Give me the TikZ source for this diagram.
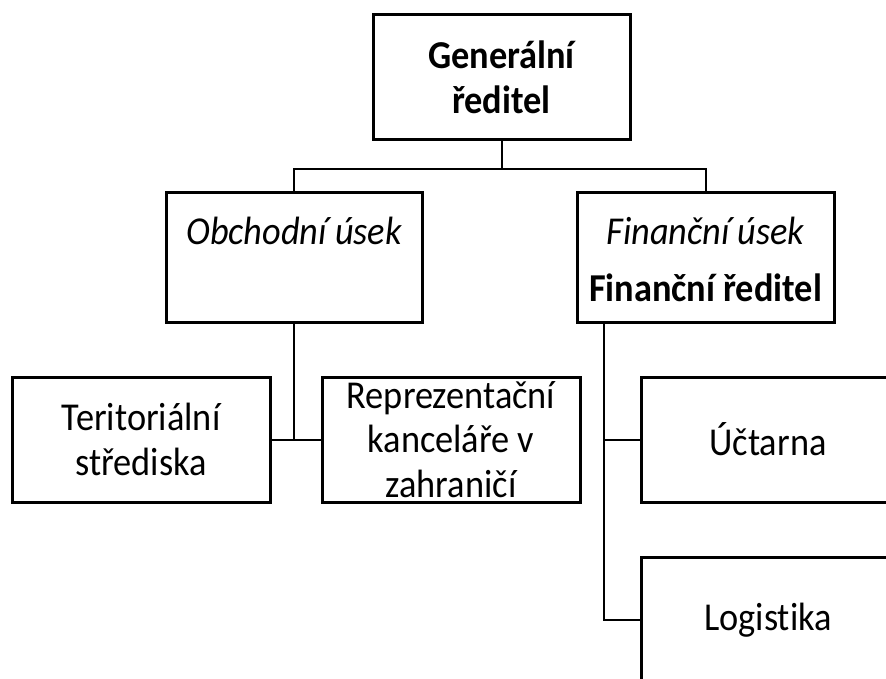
\documentclass[tikz,border=0pt]{standalone}
\usepackage{fontspec}
\setmainfont{Carlito}[FakeStretch=0.92,Ligatures=NoCommon]
\begin{document}
\begin{tikzpicture}[x=1pt,y=-1pt,
  every node/.style={font=\fontsize{39.5}{44.5}\selectfont},
  box/.style={draw, line width=3pt, rectangle, inner sep=0pt, align=center},
  txt/.style={inner sep=0pt, align=center},
  link/.style={line width=2pt}]
\useasboundingbox (0,0) rectangle (886,679);
% boxes
\node[box, minimum width=257pt, minimum height=125pt] (gen) at (501.5,77.5) {\bfseries Generální\\\bfseries ředitel};
\node[box, minimum width=256pt, minimum height=129pt] (obch) at (294,257.5) {};
\node[txt] (obcht) at (294,231) {\itshape Obchodní úsek};
\node[box, minimum width=257pt, minimum height=129pt] (fin) at (705.5,257.5) {};
\node[txt] (fint1) at (705.5,231) {\itshape Finanční úsek};
\node[txt] (fint2) at (705.5,288) {\bfseries Finanční ředitel};
\node[box, minimum width=258pt, minimum height=125pt] (terr) at (141,439.5) {Teritoriální\\střediska};
\node[box, minimum width=258pt, minimum height=125pt] (rep) at (451,439.5) {Reprezentační\\kanceláře v\\zahraničí};
\node[box, minimum width=254pt, minimum height=125pt] (ucet) at (768,439.5) {Účtarna};
\node[box, minimum width=254pt, minimum height=126pt] (log) at (768,620) {Logistika};
% connectors
\draw[link] (gen.south) -- ++(0,28) coordinate (jg);
\draw[link] (obch.north) |- (jg) -| (fin.north);
\draw[link] (obch.south) -- (obch.south |- terr.east);
\draw[link] (terr.east) -- (rep.west);
\coordinate (fv) at (604,0);
\draw[link] (fin.south -| fv) -- (log.west -| fv) -- (log.west);
\draw[link] (ucet.west -| fv) -- (ucet.west);
\end{tikzpicture}
\end{document}
